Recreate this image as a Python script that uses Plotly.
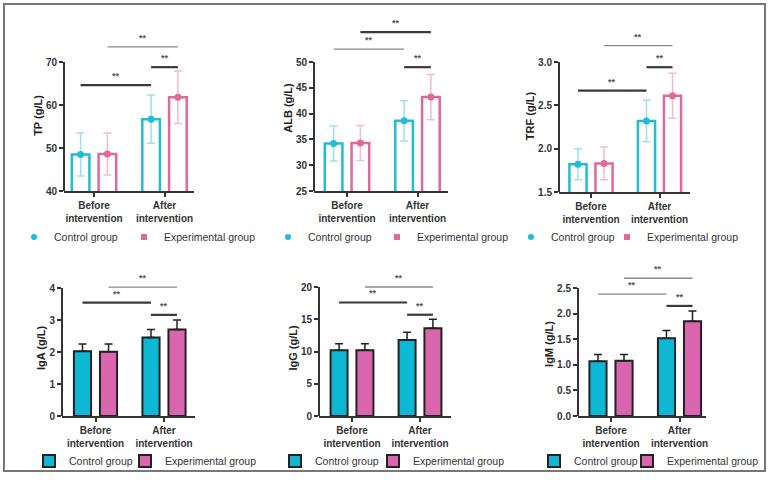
import plotly.graph_objects as go

W, H = 769, 483

# ---------------- data ----------------
categories = ["Before<br>intervention", "After<br>intervention"]
group_names = ["Control group", "Experimental group"]

tp_control = [48.5, 56.7]
tp_control_sd = [5.0, 5.6]
tp_experimental = [48.6, 61.8]
tp_experimental_sd = [4.9, 6.1]
tp_ticks = [40, 50, 60, 70]
tp_brackets = [("c0", "c1", 64.6), ("c1", "e1", 68.8), ("e0", "e1", 73.5)]

alb_control = [34.2, 38.6]
alb_control_sd = [3.4, 3.9]
alb_experimental = [34.3, 43.2]
alb_experimental_sd = [3.4, 4.4]
alb_ticks = [25, 30, 35, 40, 45, 50]
alb_brackets = [("c0", "c1", 52.5), ("e0", "e1", 55.8), ("c1", "e1", 49.0)]

trf_control = [1.82, 2.32]
trf_control_sd = [0.18, 0.24]
trf_experimental = [1.83, 2.61]
trf_experimental_sd = [0.19, 0.26]
trf_ticks = [1.5, 2.0, 2.5, 3.0]
trf_brackets = [("c0", "c1", 2.67), ("c1", "e1", 2.94), ("e0", "e1", 3.19)]

iga_control = [2.02, 2.45]
iga_control_sd = [0.23, 0.25]
iga_experimental = [2.01, 2.70]
iga_experimental_sd = [0.24, 0.30]
iga_ticks = [0, 1, 2, 3, 4]
iga_brackets = [("c0", "c1", 3.54), ("e0", "e1", 4.03), ("c1", "e1", 3.16)]

igg_control = [10.2, 11.8]
igg_control_sd = [1.0, 1.2]
igg_experimental = [10.2, 13.6]
igg_experimental_sd = [1.0, 1.4]
igg_ticks = [0, 5, 10, 15, 20]
igg_brackets = [("c0", "c1", 17.6), ("e0", "e1", 20.0), ("c1", "e1", 15.7)]

igm_control = [1.07, 1.52]
igm_control_sd = [0.13, 0.15]
igm_experimental = [1.08, 1.85]
igm_experimental_sd = [0.12, 0.20]
igm_ticks = [0.0, 0.5, 1.0, 1.5, 2.0, 2.5]
igm_brackets = [("c0", "c1", 2.38), ("e0", "e1", 2.69), ("c1", "e1", 2.15)]

sig_label = "**"

# ---------------- styles / layout ----------------
FONT = "Arial, Liberation Sans, sans-serif"
TOP_CYAN, TOP_PINK = "#22bcd4", "#e0699c"
TOP_CYAN_EB, TOP_PINK_EB = "rgba(34,188,212,0.45)", "rgba(224,105,156,0.45)"
BOT_CYAN, BOT_PINK = "#0cb8d3", "#d865ad"
DARK = "#333333"

THICK = dict(color="#3a3a3a", width=2.2)
THIN = dict(color="#8a8a8a", width=1.3)

panels = [
    dict(title="TP (g/L)", c=tp_control, csd=tp_control_sd, e=tp_experimental, esd=tp_experimental_sd,
         ticks=tp_ticks, br=tp_brackets, brstyle=[THICK, THICK, THIN], fmt="d", kind="outline",
         g=dict(x0=64, x1=194, b=94, a=164.5, v0=40, p0=191, v1=70, p1=62, top=40), leg=(14, 124, 237)),
    dict(title="ALB (g/L)", c=alb_control, csd=alb_control_sd, e=alb_experimental, esd=alb_experimental_sd,
         ticks=alb_ticks, br=alb_brackets, brstyle=[THIN, THICK, THICK], fmt="d", kind="outline",
         g=dict(x0=314, x1=448, b=347, a=417.5, v0=25, p0=191, v1=50, p1=62, top=25), leg=(268, 377, 237)),
    dict(title="TRF (g/L)", c=trf_control, csd=trf_control_sd, e=trf_experimental, esd=trf_experimental_sd,
         ticks=trf_ticks, br=trf_brackets, brstyle=[THICK, THICK, THIN], fmt=".1f", kind="outline",
         g=dict(x0=559, x1=690, b=591, a=659.5, v0=1.5, p0=192, v1=3.0, p1=62, top=40), leg=(511, 607, 237)),
    dict(title="IgA (g/L)", c=iga_control, csd=iga_control_sd, e=iga_experimental, esd=iga_experimental_sd,
         ticks=iga_ticks, br=iga_brackets, brstyle=[THICK, THIN, THICK], fmt="d", kind="filled",
         g=dict(x0=62, x1=195, b=95.5, a=164, v0=0, p0=416, v1=4, p1=288, top=280), leg=(29, 125, 461)),
    dict(title="IgG (g/L)", c=igg_control, csd=igg_control_sd, e=igg_experimental, esd=igg_experimental_sd,
         ticks=igg_ticks, br=igg_brackets, brstyle=[THICK, THIN, THICK], fmt="d", kind="filled",
         g=dict(x0=319, x1=451, b=352, a=420, v0=0, p0=416, v1=20, p1=287, top=280), leg=(275, 373, 461)),
    dict(title="IgM (g/L)", c=igm_control, csd=igm_control_sd, e=igm_experimental, esd=igm_experimental_sd,
         ticks=igm_ticks, br=igm_brackets, brstyle=[THIN, THIN, THICK], fmt=".1f", kind="filled",
         g=dict(x0=578, x1=706, b=611, a=679.5, v0=0, p0=416, v1=2.5, p1=288, top=272), leg=(534, 627, 461)),
]

OFF = 0.19   # half distance between the two bars of a group (category units)
BW = 0.25    # bar width (category units)

fig = go.Figure()
shapes = []
annotations = []
layout = {}

cat_pos = list(range(len(categories)))
legend_count = 0


def new_legend(x_px, y_px):
    global legend_count
    legend_count += 1
    key = "legend" if legend_count == 1 else "legend" + str(legend_count)
    layout[key] = dict(x=x_px / W, y=1 - y_px / H, xanchor="left", yanchor="middle",
                       orientation="h", bgcolor="rgba(0,0,0,0)",
                       font=dict(family=FONT, size=10.5, color="#333"), itemwidth=30)
    return key


for i, p in enumerate(panels, start=1):
    s = "" if i == 1 else str(i)
    xa, ya = "x" + s, "y" + s
    g = p["g"]
    scale = (g["p0"] - g["p1"]) / (g["v1"] - g["v0"])
    rtop = g["v0"] + (g["p0"] - g["top"]) / scale
    dx = g["a"] - g["b"]
    xr = [(g["x0"] - g["b"]) / dx, (g["x1"] - g["b"]) / dx]

    xc = [c - OFF for c in cat_pos]
    xe = [c + OFF for c in cat_pos]
    lxc, lxe, ly = p["leg"]

    if p["kind"] == "outline":
        for xs, vals, sd, col, ebc, sym, name, lx in [
            (xc, p["c"], p["csd"], TOP_CYAN, TOP_CYAN_EB, "circle", group_names[0], lxc),
            (xe, p["e"], p["esd"], TOP_PINK, TOP_PINK_EB, "square", group_names[1], lxe),
        ]:
            fig.add_trace(go.Bar(x=xs, y=vals, width=BW, xaxis=xa, yaxis=ya, showlegend=False,
                                 marker=dict(color="rgba(255,255,255,0)", line=dict(color=col, width=2.5))))
            fig.add_trace(go.Scatter(x=xs, y=vals, mode="markers", xaxis=xa, yaxis=ya, showlegend=False,
                                     marker=dict(color=col, size=7, symbol="circle"),
                                     error_y=dict(type="data", array=sd, visible=True, color=ebc,
                                                  thickness=1.5, width=4)))
            fig.add_trace(go.Scatter(x=[None], y=[None], mode="markers", xaxis=xa, yaxis=ya, name=name,
                                     legend=new_legend(lx, ly), marker=dict(color=col, size=6, symbol=sym)))
    else:
        for xs, vals, sd, col, name, lx in [
            (xc, p["c"], p["csd"], BOT_CYAN, group_names[0], lxc),
            (xe, p["e"], p["esd"], BOT_PINK, group_names[1], lxe),
        ]:
            fig.add_trace(go.Bar(x=xs, y=vals, width=BW, xaxis=xa, yaxis=ya, name=name,
                                 legend=new_legend(lx, ly),
                                 marker=dict(color=col, line=dict(color="#222222", width=2)),
                                 error_y=dict(type="data", symmetric=False, array=sd,
                                              arrayminus=[0] * len(sd), visible=True,
                                              color="#222222", thickness=1.5, width=4)))

    layout["xaxis" + s] = dict(domain=[g["x0"] / W, g["x1"] / W], range=xr, anchor=ya,
                               tickvals=cat_pos, ticktext=categories, showline=True,
                               linecolor=DARK, linewidth=2, ticks="outside", ticklen=4,
                               tickwidth=1.5, tickcolor=DARK, showgrid=False, zeroline=False,
                               tickfont=dict(family=FONT, size=10, color="#333", weight="bold"),
                               fixedrange=True)
    layout["yaxis" + s] = dict(domain=[1 - g["p0"] / H, 1 - g["top"] / H], range=[g["v0"], rtop],
                               anchor=xa, tickvals=p["ticks"], tickformat=p["fmt"], showline=False,
                               ticks="outside", ticklen=4, tickwidth=1.5, tickcolor=DARK,
                               showgrid=False, zeroline=False,
                               tickfont=dict(family=FONT, size=10, color="#333", weight="bold"),
                               title=dict(text=p["title"], standoff=1,
                                          font=dict(family=FONT, size=11, color="#222", weight="bold")),
                               fixedrange=True)
    # y-axis line only up to the top tick
    shapes.append(dict(type="line", xref=xa + " domain", yref=ya, x0=0, x1=0,
                       y0=p["ticks"][0], y1=p["ticks"][-1], line=dict(color=DARK, width=2)))
    # significance brackets
    pos = {"c0": xc[0], "c1": xc[1], "e0": xe[0], "e1": xe[1]}
    for (k0, k1, yv), st in zip(p["br"], p["brstyle"]):
        shapes.append(dict(type="line", xref=xa, yref=ya, x0=pos[k0], x1=pos[k1], y0=yv, y1=yv,
                           line=st))
        annotations.append(dict(x=(pos[k0] + pos[k1]) / 2, y=yv, xref=xa, yref=ya, text=sig_label,
                                showarrow=False, yanchor="bottom", yshift=2,
                                font=dict(family=FONT, size=9, color="#555", weight="bold")))

# outer frame
shapes.append(dict(type="rect", xref="paper", yref="paper", x0=4 / W, x1=765 / W,
                   y0=1 - 471 / H, y1=1 - 4 / H, line=dict(color="#777777", width=2)))

fig.update_layout(width=W, height=H, margin=dict(l=0, r=0, t=0, b=0, autoexpand=False),
                  paper_bgcolor="white", plot_bgcolor="white", barmode="overlay",
                  shapes=shapes, annotations=annotations, **layout)

fig.write_html("out.html")
